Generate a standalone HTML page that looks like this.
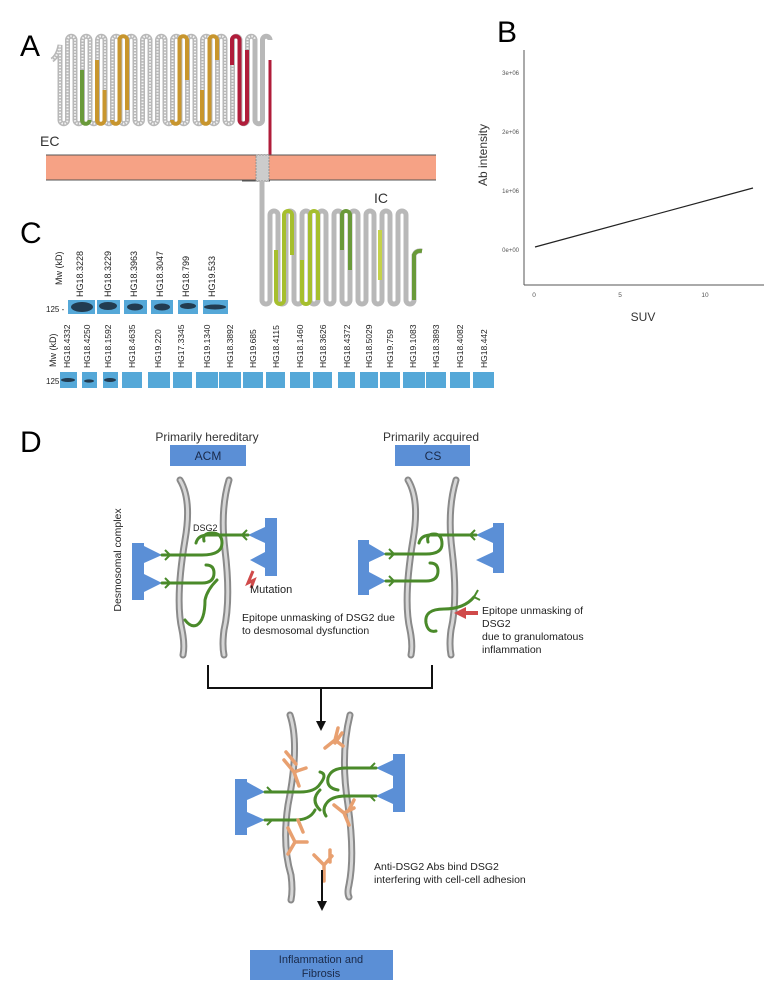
<!DOCTYPE html>
<html><head><meta charset="utf-8"><style>
html,body{margin:0;padding:0;background:#fff}
svg{display:block;font-family:"Liberation Sans",Arial,sans-serif}
</style></head><body>
<svg width="768" height="987" viewBox="0 0 768 987" xmlns="http://www.w3.org/2000/svg">
<!-- Panel A -->
<text x="20" y="56" font-size="30">A</text>
<path d="M52,60 q6,-4 8,-15 v75 a3.75,3.75 0 0 0 7.5,0 v-80 a3.75,3.75 0 0 1 7.5,0 v80 a3.75,3.75 0 0 0 7.5,0 v-80 a3.75,3.75 0 0 1 7.5,0 v80 a3.75,3.75 0 0 0 7.5,0 v-80 a3.75,3.75 0 0 1 7.5,0 v80 a3.75,3.75 0 0 0 7.5,0 v-80 a3.75,3.75 0 0 1 7.5,0 v80 a3.75,3.75 0 0 0 7.5,0 v-80 a3.75,3.75 0 0 1 7.5,0 v80 a3.75,3.75 0 0 0 7.5,0 v-80 a3.75,3.75 0 0 1 7.5,0 v80 a3.75,3.75 0 0 0 7.5,0 v-80 a3.75,3.75 0 0 1 7.5,0 v80 a3.75,3.75 0 0 0 7.5,0 v-80 a3.75,3.75 0 0 1 7.5,0 v80 a3.75,3.75 0 0 0 7.5,0 v-80 a3.75,3.75 0 0 1 7.5,0 v80 a3.75,3.75 0 0 0 7.5,0 v-80 a3.75,3.75 0 0 1 7.5,0 v80 a3.75,3.75 0 0 0 7.5,0 v-80 a3.75,3.75 0 0 1 7.5,0 v80 a3.75,3.75 0 0 0 7.5,0 v-80 a3.75,3.75 0 0 1 7.5,0 v80 a3.75,3.75 0 0 0 7.5,0 v-80 a3.75,3.75 0 0 1 7.5,0 v80 a3.75,3.75 0 0 0 7.5,0 v-80 a3.75,3.75 0 0 1 7.5,0" fill="none" stroke="#b8b8b8" stroke-width="5"/>
<path d="M52,60 q6,-4 8,-15 v75 a3.75,3.75 0 0 0 7.5,0 v-80 a3.75,3.75 0 0 1 7.5,0 v80 a3.75,3.75 0 0 0 7.5,0 v-80 a3.75,3.75 0 0 1 7.5,0 v80 a3.75,3.75 0 0 0 7.5,0 v-80 a3.75,3.75 0 0 1 7.5,0 v80 a3.75,3.75 0 0 0 7.5,0 v-80 a3.75,3.75 0 0 1 7.5,0 v80 a3.75,3.75 0 0 0 7.5,0 v-80 a3.75,3.75 0 0 1 7.5,0 v80 a3.75,3.75 0 0 0 7.5,0 v-80 a3.75,3.75 0 0 1 7.5,0 v80 a3.75,3.75 0 0 0 7.5,0 v-80 a3.75,3.75 0 0 1 7.5,0 v80 a3.75,3.75 0 0 0 7.5,0 v-80 a3.75,3.75 0 0 1 7.5,0 v80 a3.75,3.75 0 0 0 7.5,0 v-80 a3.75,3.75 0 0 1 7.5,0 v80 a3.75,3.75 0 0 0 7.5,0 v-80 a3.75,3.75 0 0 1 7.5,0 v80 a3.75,3.75 0 0 0 7.5,0 v-80 a3.75,3.75 0 0 1 7.5,0 v80 a3.75,3.75 0 0 0 7.5,0 v-80 a3.75,3.75 0 0 1 7.5,0 v80 a3.75,3.75 0 0 0 7.5,0 v-80 a3.75,3.75 0 0 1 7.5,0" fill="none" stroke="#f4f4f4" stroke-width="2" stroke-dasharray="1.5 1.5"/>
<!-- coloured segments -->
<path d="M82,70 v50 a3.75,3.75 0 0 0 7.5,0" fill="none" stroke="#6a9a3a" stroke-width="4"/>
<path d="M97,60 v60 a3.75,3.75 0 0 0 7.5,0 v-30" fill="none" stroke="#c8962e" stroke-width="4"/>
<path d="M112,120 a3.75,3.75 0 0 0 7.5,0 v-80 a3.75,3.75 0 0 1 7.5,0 v70" fill="none" stroke="#c8962e" stroke-width="4"/>
<path d="M172,120 a3.75,3.75 0 0 0 7.5,0 v-80 a3.75,3.75 0 0 1 7.5,0 v40" fill="none" stroke="#c8962e" stroke-width="4"/>
<path d="M202,90 v30 a3.75,3.75 0 0 0 7.5,0 v-80 a3.75,3.75 0 0 1 7.5,0 v20" fill="none" stroke="#c8962e" stroke-width="4"/>
<path d="M232,65 v-25 a3.75,3.75 0 0 1 7.5,0 v80 a3.75,3.75 0 0 0 7.5,0 v-70" fill="none" stroke="#b01c3a" stroke-width="4"/>
<path d="M270,60 v97" fill="none" stroke="#b01c3a" stroke-width="3"/>
<text x="40" y="146" font-size="14" fill="#333">EC</text>
<rect x="46" y="155" width="390" height="25" fill="#f6a285"/>
<line x1="46" y1="155" x2="436" y2="155" stroke="#555" stroke-width="1"/>
<line x1="46" y1="180" x2="436" y2="180" stroke="#555" stroke-width="1"/>
<line x1="242" y1="181" x2="270" y2="181" stroke="#555" stroke-width="1"/>
<rect x="256" y="155" width="13" height="26" fill="#ccc" stroke="#888" stroke-width="0.8" stroke-dasharray="2 1"/>
<text x="374" y="203" font-size="14" fill="#333">IC</text>
<path d="M262,181 v119 a4,4 0 0 0 8,0 v-85 a4,4 0 0 1 8,0 v85 a4,4 0 0 0 8,0 v-85 a4,4 0 0 1 8,0 v85 a4,4 0 0 0 8,0 v-85 a4,4 0 0 1 8,0 v85 a4,4 0 0 0 8,0 v-85 a4,4 0 0 1 8,0 v85 a4,4 0 0 0 8,0 v-85 a4,4 0 0 1 8,0 v85 a4,4 0 0 0 8,0 v-85 a4,4 0 0 1 8,0 v85 a4,4 0 0 0 8,0 v-85 a4,4 0 0 1 8,0 v85 a4,4 0 0 0 8,0 v-85 a4,4 0 0 1 8,0 v85 a4,4 0 0 0 8,0 v-85 a4,4 0 0 1 8,0 v85 a4,4 0 0 0 8,0 v-45 q2,-5 8,-4" fill="none" stroke="#b8b8b8" stroke-width="5"/>
<path d="M276,250 v50 a4,4 0 0 0 8,0 v-85 a4,4 0 0 1 8,0 v40" fill="none" stroke="#a6bf2e" stroke-width="4"/>
<path d="M302,260 v40 a4,4 0 0 0 8,0 v-85 a4,4 0 0 1 8,0 v85" fill="none" stroke="#a6bf2e" stroke-width="4"/>
<path d="M342,250 v-35 a4,4 0 0 1 8,0 v55" fill="none" stroke="#6a9a3a" stroke-width="4"/>
<path d="M380,230 v50" fill="none" stroke="#c5d24a" stroke-width="4"/>
<path d="M414,300 v-45 q2,-5 8,-4" fill="none" stroke="#6a9a3a" stroke-width="4"/>
<!-- Panel C -->
<text x="20" y="243" font-size="30">C</text>
<g font-size="9" fill="#222">
<text transform="translate(62,285) rotate(-90)">Mw (kD)</text>
<text transform="translate(83,297) rotate(-90)">HG18.3228</text>
<text transform="translate(111,297) rotate(-90)">HG18.3229</text>
<text transform="translate(137,297) rotate(-90)">HG18.3963</text>
<text transform="translate(163,297) rotate(-90)">HG18.3047</text>
<text transform="translate(189,297) rotate(-90)">HG18.799</text>
<text transform="translate(215,297) rotate(-90)">HG19.533</text>
<text x="46" y="312" font-size="8">125 -</text>
<text transform="translate(56,367) rotate(-90)">Mw (kD)</text>
<text x="46" y="384" font-size="8">125 -</text>
</g>
<g fill="#55a8d8">
<rect x="68" y="300" width="27" height="14"/><rect x="97" y="300" width="23" height="14"/><rect x="124" y="300" width="23" height="14"/><rect x="151" y="300" width="22" height="14"/><rect x="178" y="300" width="20" height="14"/><rect x="203" y="300" width="25" height="14"/>
<rect x="60" y="372" width="17" height="16"/><rect x="82" y="372" width="15" height="16"/><rect x="103" y="372" width="15" height="16"/><rect x="122" y="372" width="20" height="16"/><rect x="148" y="372" width="22" height="16"/><rect x="173" y="372" width="19" height="16"/><rect x="196" y="372" width="22" height="16"/><rect x="219" y="372" width="22" height="16"/><rect x="243" y="372" width="20" height="16"/><rect x="266" y="372" width="19" height="16"/><rect x="290" y="372" width="20" height="16"/><rect x="313" y="372" width="19" height="16"/><rect x="338" y="372" width="17" height="16"/><rect x="360" y="372" width="18" height="16"/><rect x="380" y="372" width="20" height="16"/><rect x="403" y="372" width="22" height="16"/><rect x="426" y="372" width="20" height="16"/><rect x="450" y="372" width="20" height="16"/><rect x="473" y="372" width="21" height="16"/>
</g>
<g fill="#1a2a3a" opacity="0.85">
<ellipse cx="82" cy="307" rx="11" ry="5"/><ellipse cx="108" cy="306" rx="9" ry="4"/><ellipse cx="135" cy="307" rx="8" ry="3.5"/><ellipse cx="162" cy="307" rx="8" ry="3.5"/><ellipse cx="188" cy="306" rx="8" ry="3"/><ellipse cx="215" cy="307" rx="11" ry="2.5"/>
<ellipse cx="68" cy="380" rx="7" ry="2"/><ellipse cx="89" cy="381" rx="5" ry="1.6"/><ellipse cx="110" cy="380" rx="6" ry="2"/>
</g>
<g font-size="8.5" fill="#222">
<text transform="translate(70,368) rotate(-90)">HG18.4332</text>
<text transform="translate(90,368) rotate(-90)">HG18.4250</text>
<text transform="translate(111,368) rotate(-90)">HG18.1592</text>
<text transform="translate(135,368) rotate(-90)">HG18.4635</text>
<text transform="translate(161,368) rotate(-90)">HG19.220</text>
<text transform="translate(184,368) rotate(-90)">HG17.3345</text>
<text transform="translate(210,368) rotate(-90)">HG19.1340</text>
<text transform="translate(233,368) rotate(-90)">HG18.3892</text>
<text transform="translate(256,368) rotate(-90)">HG19.685</text>
<text transform="translate(279,368) rotate(-90)">HG18.4115</text>
<text transform="translate(303,368) rotate(-90)">HG18.1460</text>
<text transform="translate(326,368) rotate(-90)">HG18.3626</text>
<text transform="translate(350,368) rotate(-90)">HG18.4372</text>
<text transform="translate(372,368) rotate(-90)">HG18.5029</text>
<text transform="translate(393,368) rotate(-90)">HG19.759</text>
<text transform="translate(416,368) rotate(-90)">HG19.1083</text>
<text transform="translate(439,368) rotate(-90)">HG18.3893</text>
<text transform="translate(463,368) rotate(-90)">HG18.4082</text>
<text transform="translate(487,368) rotate(-90)">HG18.442</text>
</g>
<!-- Panel B -->
<text x="497" y="42" font-size="30">B</text>
<line x1="524" y1="50" x2="524" y2="285" stroke="#555" stroke-width="1"/>
<line x1="524" y1="285" x2="764" y2="285" stroke="#555" stroke-width="1"/>
<g font-size="6" fill="#555" text-anchor="end">
<text x="519" y="75">3e+06</text><text x="519" y="134">2e+06</text><text x="519" y="193">1e+06</text><text x="519" y="252">0e+00</text>
</g>
<g font-size="6.5" fill="#555" text-anchor="middle">
<text x="534" y="297">0</text><text x="620" y="297">5</text><text x="705" y="297">10</text>
</g>
<line x1="535" y1="247" x2="753" y2="188" stroke="#222" stroke-width="1.2"/>
<text transform="translate(487,155) rotate(-90)" font-size="12" fill="#333" text-anchor="middle">Ab intensity</text>
<text x="643" y="321" font-size="12" fill="#333" text-anchor="middle">SUV</text>
<!-- Panel D -->
<text x="20" y="452" font-size="30">D</text>
<g font-size="12" fill="#333" text-anchor="middle">
<text x="207" y="441">Primarily hereditary</text>
<text x="431" y="441">Primarily acquired</text>
</g>
<rect x="170" y="445" width="76" height="21" fill="#5b8fd6"/>
<rect x="395" y="445" width="75" height="21" fill="#5b8fd6"/>
<g font-size="12" fill="#1a2a4a" text-anchor="middle">
<text x="208" y="460">ACM</text><text x="433" y="460">CS</text>
</g>
<g fill="none" stroke-linecap="round">
<g stroke="#8a8a8a" stroke-width="7">
<path d="M180,480 q12,20 5,60 q-10,60 -3,90 q3,15 1,25"/>
<path d="M229,480 q-9,30 -4,70 q6,50 -1,80 q-2,15 0,25"/>
<path d="M408,480 q12,20 5,60 q-10,60 -3,90 q3,15 1,25"/>
<path d="M456,480 q-9,30 -4,70 q6,50 -1,80 q-2,15 0,25"/>
<path d="M290,715 q10,30 -2,90 q-6,40 3,70 q2,15 0,25"/>
<path d="M350,715 q-10,40 -2,90 q7,50 1,80 q-2,8 0,12"/>
</g>
<g stroke="#d6d6d6" stroke-width="3">
<path d="M180,480 q12,20 5,60 q-10,60 -3,90 q3,15 1,25"/>
<path d="M229,480 q-9,30 -4,70 q6,50 -1,80 q-2,15 0,25"/>
<path d="M408,480 q12,20 5,60 q-10,60 -3,90 q3,15 1,25"/>
<path d="M456,480 q-9,30 -4,70 q6,50 -1,80 q-2,15 0,25"/>
<path d="M290,715 q10,30 -2,90 q-6,40 3,70 q2,15 0,25"/>
<path d="M350,715 q-10,40 -2,90 q7,50 1,80 q-2,8 0,12"/>
</g>
</g>
<g fill="#5b8fd6">
<rect x="132" y="543" width="12" height="57"/><polygon points="144,546 162,555 144,563"/><polygon points="144,574 162,583 144,592"/>
<rect x="265" y="518" width="12" height="58"/><polygon points="265,527 248,535 265,543"/><polygon points="265,552 250,560 265,568"/>
<rect x="358" y="540" width="11" height="55"/><polygon points="369,544 386,554 369,562"/><polygon points="369,572 386,581 369,590"/>
<rect x="493" y="523" width="11" height="50"/><polygon points="493,527 476,535 493,543"/><polygon points="493,552 476,560 493,568"/>
<rect x="235" y="779" width="12" height="56"/><polygon points="247,782 265,792 247,800"/><polygon points="247,812 265,820 247,828"/>
<rect x="393" y="754" width="12" height="58"/><polygon points="393,760 376,768 393,776"/><polygon points="393,788 376,796 393,804"/>
</g>
<g fill="none" stroke="#4a8a2a" stroke-width="3" stroke-linecap="round">
<path d="M162,555 h40 q20,0 20,-12 q0,-10 -10,-10 q-10,0 -8,8"/>
<path d="M162,583 h40 q12,0 12,-10 q0,-8 -8,-8"/>
<path d="M248,535 h-40 q-10,0 -12,8"/>
<path d="M217,580 q-10,10 -12,20 q0,20 -8,25 q-6,3 -12,-5"/>
<path d="M386,554 h40 q16,0 16,-10 q0,-10 -8,-10 q-8,0 -6,8"/>
<path d="M386,581 h40 q12,0 12,-10 q0,-8 -8,-8"/>
<path d="M476,535 h-45 q-10,0 -12,8"/>
<path d="M474,597 q-10,12 -30,12 q-20,0 -18,14 q2,10 10,8"/>
<path d="M265,792 h35 q15,0 20,-8 q8,-10 0,-12"/>
<path d="M265,820 h30 q15,0 20,-10"/>
<path d="M376,768 h-30 q-15,0 -18,10 q-2,10 10,12"/>
<path d="M376,796 h-30 q-15,0 -20,8 q-4,6 0,12"/>
<path d="M320,790 q-10,10 0,20"/>
</g>
<g stroke="#4a8a2a" stroke-width="2" fill="none">
<path d="M170,555 l-5,-5 M170,555 l-5,5 M170,583 l-5,-5 M170,583 l-5,5 M242,535 l5,-5 M242,535 l5,5 M394,554 l-5,-5 M394,554 l-5,5 M394,581 l-5,-5 M394,581 l-5,5 M470,535 l5,-5 M470,535 l5,5 M474,597 l4,-7 M474,597 l6,3 M272,792 l-5,-5 M272,820 l-5,5 M370,768 l5,-5 M370,796 l5,5"/>
</g>
<g stroke="#e8a070" stroke-width="3.5" fill="none" stroke-linecap="round">
<path d="M284,760 l10,12 l12,-4 M294,772 l5,14 M286,752 l10,12"/>
<path d="M338,728 l-3,12 l-10,8 M335,740 l8,6 M342,733 l-7,10"/>
<path d="M334,805 l10,8 l5,12 M344,813 l10,-5 M354,800 l-5,10"/>
<path d="M288,828 l7,14 l-7,12 M295,842 l12,0 M298,820 l5,12"/>
<path d="M314,855 l10,10 l0,16 M324,865 l8,-9 M330,850 l0,12"/>
</g>
<path d="M253,571 l-5,12 l6,-3 l-3,8" stroke="#d04a4a" stroke-width="3" fill="none"/>
<polygon points="454,613 466,607 466,611 478,611 478,615 466,615 466,619" fill="#d04a4a"/>
<text x="250" y="593" font-size="11" fill="#222">Mutation</text>
<text x="193" y="531" font-size="9" fill="#222">DSG2</text>
<text transform="translate(121,560) rotate(-90)" font-size="10.5" fill="#222" text-anchor="middle">Desmosomal complex</text>
<g font-size="10.5" fill="#222">
<text x="242" y="621">Epitope unmasking of DSG2 due</text>
<text x="242" y="634">to desmosomal dysfunction</text>
<text x="482" y="614">Epitope unmasking of</text>
<text x="482" y="627">DSG2</text>
<text x="482" y="640">due to granulomatous</text>
<text x="482" y="653">inflammation</text>
<text x="374" y="870">Anti-DSG2 Abs bind DSG2</text>
<text x="374" y="883">interfering with cell-cell adhesion</text>
</g>
<path d="M208,665 V688 H432 V665" fill="none" stroke="#111" stroke-width="2"/>
<line x1="321" y1="688" x2="321" y2="722" stroke="#111" stroke-width="2"/>
<polygon points="316,721 326,721 321,731" fill="#111"/>
<line x1="322" y1="870" x2="322" y2="902" stroke="#111" stroke-width="2"/>
<polygon points="317,901 327,901 322,911" fill="#111"/>
<rect x="250" y="950" width="143" height="30" fill="#5b8fd6"/>
<g font-size="11" fill="#1a2a4a" text-anchor="middle">
<text x="321" y="963">Inflammation and</text><text x="321" y="977">Fibrosis</text>
</g>
</svg>
</body></html>
